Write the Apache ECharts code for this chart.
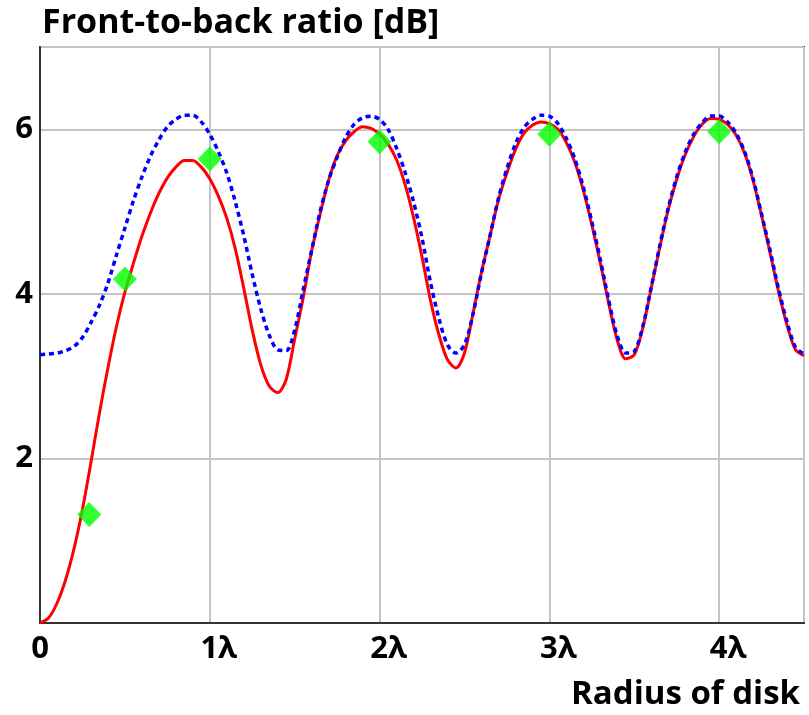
<!DOCTYPE html>
<html>
<head>
<meta charset="utf-8">
<script src="https://cdn.jsdelivr.net/npm/echarts@6/dist/echarts.min.js"></script>
<style>
  html, body { margin: 0; padding: 0; background: #fff; }
  #chart { width: 809px; height: 715px; }
</style>
</head>
<body>
<div id="chart"></div>
<script>
// Radius of disk, in wavelengths
const radius = [
  0.00, 0.05, 0.10, 0.15, 0.20, 0.25, 0.30, 0.35, 0.40, 0.45,
  0.50, 0.55, 0.60, 0.65, 0.70, 0.75, 0.80, 0.85, 0.90, 0.95,
  1.00, 1.05, 1.10, 1.15, 1.20, 1.25, 1.30, 1.35, 1.40, 1.45,
  1.50, 1.55, 1.60, 1.65, 1.70, 1.75, 1.80, 1.85, 1.90, 1.95,
  2.00, 2.05, 2.10, 2.15, 2.20, 2.25, 2.30, 2.35, 2.40, 2.45,
  2.50, 2.55, 2.60, 2.65, 2.70, 2.75, 2.80, 2.85, 2.90, 2.95,
  3.00, 3.05, 3.10, 3.15, 3.20, 3.25, 3.30, 3.35, 3.40, 3.45,
  3.50, 3.55, 3.60, 3.65, 3.70, 3.75, 3.80, 3.85, 3.90, 3.95,
  4.00, 4.05, 4.10, 4.15, 4.20, 4.25, 4.30, 4.35, 4.40, 4.45,
  4.50
];

// Front-to-back ratio [dB], solid red curve
const ratioSolid = [
  0.00, 0.06, 0.24, 0.52, 0.90, 1.38, 1.95, 2.55, 3.10, 3.60,
  4.02, 4.37, 4.70, 4.98, 5.22, 5.41, 5.54, 5.62, 5.62, 5.54,
  5.40, 5.19, 4.92, 4.55, 4.07, 3.56, 3.14, 2.88, 2.80, 2.96,
  3.45, 3.95, 4.52, 4.97, 5.38, 5.68, 5.86, 5.97, 6.03, 6.01,
  5.94, 5.82, 5.63, 5.33, 4.93, 4.45, 3.92, 3.50, 3.20, 3.10,
  3.28, 3.76, 4.26, 4.70, 5.14, 5.47, 5.75, 5.95, 6.05, 6.09,
  6.07, 6.00, 5.84, 5.60, 5.26, 4.84, 4.38, 3.88, 3.44, 3.21,
  3.26, 3.58, 4.07, 4.56, 5.02, 5.39, 5.69, 5.91, 6.06, 6.13,
  6.12, 6.06, 5.93, 5.71, 5.38, 4.95, 4.50, 4.03, 3.62, 3.32,
  3.25
];

// Front-to-back ratio [dB], dotted blue curve
const ratioDotted = [
  3.26, 3.27, 3.28, 3.31, 3.36, 3.47, 3.65, 3.86, 4.13, 4.47,
  4.80, 5.13, 5.42, 5.67, 5.87, 6.03, 6.12, 6.17, 6.17, 6.09,
  5.94, 5.73, 5.47, 5.12, 4.71, 4.24, 3.82, 3.50, 3.32, 3.31,
  3.56, 4.05, 4.53, 5.00, 5.38, 5.66, 5.90, 6.06, 6.14, 6.16,
  6.12, 6.00, 5.77, 5.48, 5.12, 4.68, 4.14, 3.70, 3.38, 3.28,
  3.38, 3.75, 4.25, 4.70, 5.16, 5.52, 5.82, 6.02, 6.12, 6.17,
  6.16, 6.07, 5.89, 5.64, 5.30, 4.88, 4.42, 3.92, 3.49, 3.28,
  3.30, 3.60, 4.08, 4.58, 5.04, 5.42, 5.72, 5.94, 6.08, 6.16,
  6.16, 6.09, 5.95, 5.73, 5.40, 4.97, 4.53, 4.06, 3.66, 3.35,
  3.27
];

// Measured points (green diamonds)
const pointRadius = [0.29, 0.50, 1.00, 2.00, 3.00, 4.00];
const pointRatio  = [1.32, 4.18, 5.64, 5.85, 5.94, 5.97];

// Axis tick labels
const xTickLabels = { 0: '0', 1: '1λ', 2: '2λ', 3: '3λ', 4: '4λ' };
const yTickLabels = { 2: '2', 4: '4', 6: '6' };

const pair = (xs, ys) => xs.map((x, i) => [x, ys[i]]);

const FONT = '"Open Sans", "Noto Sans", sans-serif';

const chart = echarts.init(document.getElementById('chart'), null, { renderer: 'canvas' });

chart.setOption({
  animation: false,
  backgroundColor: '#ffffff',
  title: [
    {
      text: 'Front-to-back ratio [dB]',
      left: 37, top: 1,
      textStyle: { fontFamily: FONT, fontWeight: 'bold', fontSize: 34, color: '#000' }
    },
    {
      text: 'Radius of disk',
      right: 4, top: 673,
      textStyle: { fontFamily: FONT, fontWeight: 'bold', fontSize: 33, color: '#000' }
    }
  ],
  grid: {
    left: 40, right: 5, top: 47, bottom: 92,
    show: true, borderColor: '#333', borderWidth: 2, backgroundColor: 'transparent'
  },
  xAxis: {
    type: 'value',
    min: 0, max: 4.5, interval: 1,
    axisLine: { show: true, lineStyle: { color: '#333', width: 2 } },
    axisTick: { show: false },
    splitLine: { show: true, lineStyle: { color: '#c4c4c4', width: 2 } },
    axisLabel: {
      showMaxLabel: false,
      margin: 11,
      fontFamily: FONT, fontWeight: 'bold', fontSize: 31, color: '#000',
      formatter: v => {
        const t = xTickLabels[Math.round(v)];
        if (!t) return '';
        return t.length > 1 ? '{s|}' + t : t;
      },
      rich: { s: { width: 18 } }
    }
  },
  yAxis: {
    type: 'value',
    min: 0, max: 7, interval: 2,
    axisLine: { show: true, lineStyle: { color: '#333', width: 2 } },
    axisTick: { show: false },
    splitLine: { show: true, lineStyle: { color: '#c4c4c4', width: 2 } },
    axisLabel: {
      showMinLabel: false, showMaxLabel: false,
      margin: 7,
      fontFamily: FONT, fontWeight: 'bold', fontSize: 31, color: '#000',
      formatter: v => yTickLabels[Math.round(v)] || ''
    }
  },
  series: [
    {
      name: 'solid',
      type: 'line',
      data: pair(radius, ratioSolid),
      smooth: 0.3,
      showSymbol: false,
      lineStyle: { color: '#ff0000', width: 3 },
      z: 2
    },
    {
      name: 'dotted',
      type: 'line',
      data: pair(radius, ratioDotted),
      smooth: 0.3,
      showSymbol: false,
      lineStyle: { color: '#0000ff', width: 3.5, type: [5, 4] },
      z: 3
    },
    {
      name: 'points',
      type: 'scatter',
      data: pair(pointRadius, pointRatio),
      symbol: 'diamond',
      symbolSize: [24, 25],
      itemStyle: { color: '#00ff00' },
      z: 4
    }
  ]
});
</script>
</body>
</html>
